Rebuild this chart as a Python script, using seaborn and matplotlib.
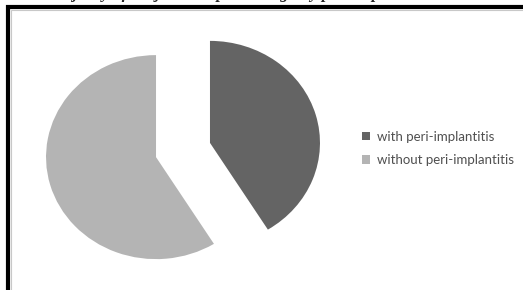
import matplotlib
matplotlib.use("Agg")
import matplotlib.pyplot as plt
import matplotlib.patches as mpatches
import seaborn as sns

# counts (about 41% / 59%)
labels = ["with peri-implantitis", "without peri-implantitis"]
counts = [7, 10]
colors = ["#646464", "#b4b4b4"]
title = "Majority of subjects not presenting any peri-implantitis"

sns.set_theme(style="white")
plt.rcParams["font.family"] = ["Lato", "DejaVu Sans"]

W, H = 523, 290
fig = plt.figure(figsize=(W / 100, H / 100), dpi=100)

# pie axes: centre at (183,150) px, about 110 px per unit across, 102 down
ax = fig.add_axes([18 / W, 1 - 282.6 / H, 330 / W, 265.2 / H])
wedges, _ = ax.pie(counts, colors=colors, startangle=90, counterclock=False,
                   explode=[0.255, 0.255], wedgeprops=dict(linewidth=0))
ax.set_xlim(-1.5, 1.5)
ax.set_ylim(-1.3, 1.3)
ax.set_aspect("auto")
ax.axis("off")

fig.legend(wedges, labels, loc="center left", bbox_to_anchor=(362 / W, 1 - 148.5 / H),
           frameon=False, fontsize=9.5, labelcolor="#505050", borderpad=0,
           borderaxespad=0, handlelength=0.6, handleheight=0.6,
           handletextpad=0.5, labelspacing=0.85)

# outer frame of the chart (runs off the right and bottom edges)
fig.patches.append(mpatches.Rectangle((8 / W, -0.1), 1.2, 1 - 7 / H + 0.1,
                                      transform=fig.transFigure, fill=False,
                                      edgecolor="black", linewidth=3.0))
fig.patches.append(mpatches.Rectangle((11 / W, -0.1), 1.2, 1 - 10 / H + 0.1,
                                      transform=fig.transFigure, fill=False,
                                      edgecolor="#c8c8c8", linewidth=0.8))

# cut-off caption above the chart: only the descenders show
fig.text(50 / W, 1 + 2.5 / H, title, ha="left", va="baseline", fontsize=12,
         family="Liberation Serif", weight="bold", style="italic")

fig.savefig("out.png", dpi=100)
